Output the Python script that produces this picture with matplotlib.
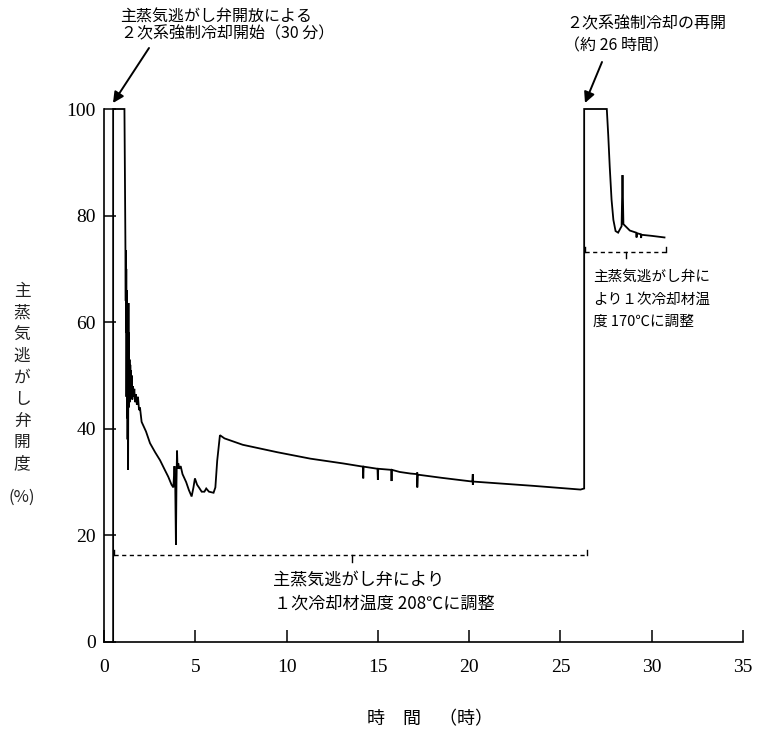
import matplotlib
matplotlib.use("Agg")
import matplotlib.pyplot as plt

# ---- data ----
time_h = [0.5, 0.5, 1.12, 1.17, 1.19, 1.2, 1.21, 1.22, 1.23, 1.25, 1.26, 1.28, 1.29, 1.31,
          1.32, 1.34, 1.35, 1.37, 1.38, 1.4, 1.42, 1.44, 1.46, 1.48, 1.5, 1.52, 1.55, 1.58,
          1.62, 1.66, 1.7, 1.75, 1.8, 1.86, 1.92, 1.97, 2.06, 2.3, 2.52, 2.8, 3.07, 3.3, 3.52,
          3.7, 3.8, 3.86, 3.9, 3.94, 3.97, 4.0, 4.03, 4.07, 4.12, 4.2, 4.3, 4.5, 4.65, 4.8,
          4.9, 4.98, 5.1, 5.2, 5.35, 5.5, 5.6, 5.75, 6.0, 6.1, 6.2, 6.35, 6.6, 7.6, 9.5,
          11.3, 13.1,
          14.18, 14.2, 14.22, 14.98, 15.0, 15.02, 15.73, 15.75, 15.77,
          16.2, 16.8, 17.14, 17.16, 17.16, 17.18, 18.5, 20.18, 20.2, 20.2, 20.22,
          23.5, 26.1, 26.3, 26.3, 27.54, 27.62, 27.7, 27.8, 27.9, 28.02, 28.16, 28.3, 28.35,
          28.4, 28.45, 28.8, 29.15, 29.17, 29.19, 29.4, 29.42, 29.44, 30.0, 30.7]
opening_pct = [0, 100, 100, 76, 64, 73.5, 58, 70, 46, 66, 42, 63.5, 38, 60,
               32.3, 63.6, 44, 58, 47, 53, 45, 52, 46, 51, 46.5, 50, 45.5, 48,
               46, 47.5, 45, 46.5, 44.5, 46, 43.5, 44, 41.3, 39.5, 37.3, 35.6, 34.1, 32.5, 31,
               29.5, 29, 33, 30, 18.2, 30, 35.9, 32.5, 33.5, 32.5, 33, 31.5, 30, 28.5, 27.3,
               29, 30.7, 29.5, 29, 28.2, 28.2, 28.8, 28.2, 28, 29, 34, 38.8, 38.2, 37, 35.6,
               34.4, 33.5,
               32.9, 30.7, 32.9, 32.5, 30.4, 32.5, 32.3, 30.2, 32.3,
               31.9, 31.6, 31.5, 31.8, 29.0, 31.4, 30.8, 30.1, 31.5, 29.5, 30.1,
               29.3, 28.6, 28.8, 100, 100, 95, 89.2, 83, 79.2, 77.1, 76.8, 77.7, 78,
               87.6, 78.4, 77.2, 76.8, 75.9, 76.7, 76.5, 75.8, 76.4, 76.2, 75.9]

# control bands (dashed brackets)
band_low_x = [0.55, 26.43]
band_low_y = 16.3
band_low_mid = 13.56
band_high_x = [26.35, 30.8]
band_high_y = 73.2
band_high_mid = 28.6

x_ticks = [0, 5, 10, 15, 20, 25, 30, 35]
y_ticks = [0, 20, 40, 60, 80, 100]

JP = ['Noto Sans CJK JP', 'DejaVu Sans']
SERIF = ['Liberation Serif', 'DejaVu Serif']

W, H = 759, 738
fig = plt.figure(figsize=(W / 100, H / 100), dpi=100)
ax = fig.add_axes([104 / W, (H - 642) / H, 639 / W, 533 / H])

ax.plot(time_h, opening_pct, color='black', lw=1.3, clip_on=False,
        solid_joinstyle='miter')

# dashed brackets
def bracket(xs, y, xm, up=1.0, down=1.2):
    ax.plot(xs, [y, y], color='black', lw=1.0, ls=(0, (3, 2.5)))
    for xe in xs:
        ax.plot([xe, xe], [y, y + up], color='black', lw=1.0)
    ax.plot([xm, xm], [y, y - down], color='black', lw=1.0)

bracket(band_low_x, band_low_y, band_low_mid)
bracket(band_high_x, band_high_y, band_high_mid)

ax.set_xlim(0, 35)
ax.set_ylim(0, 100)
ax.set_xticks(x_ticks)
ax.set_yticks(y_ticks)
for s in ['top', 'right']:
    ax.spines[s].set_visible(False)
for s in ['left', 'bottom']:
    ax.spines[s].set_linewidth(1.2)
ax.tick_params(axis='x', direction='in', length=8.5, width=1.1, pad=12)
ax.tick_params(axis='y', direction='in', length=8.5, width=1.1, pad=6)
for lab in ax.get_xticklabels() + ax.get_yticklabels():
    lab.set_fontfamily(SERIF)
    lab.set_fontsize(14)

def px(x, y):
    return x / W, 1 - y / H

# top-left annotation
fig.text(*px(120, 17), '主蒸気逃がし弁開放による', family=JP, fontsize=11.5, va='center', ha='left')
fig.text(*px(121, 34), '２次系強制冷却開始（30 分）', family=JP, fontsize=11.5, va='center', ha='left')
ax.annotate('', xy=px(113, 103), xycoords='figure fraction',
            xytext=px(149, 48), textcoords='figure fraction',
            arrowprops=dict(arrowstyle='-|>', color='black', lw=1.4,
                            mutation_scale=16, shrinkA=0, shrinkB=0))
# top-right annotation
fig.text(*px(566, 24), '２次系強制冷却の再開', family=JP, fontsize=11.5, va='center', ha='left')
fig.text(*px(564, 46), '（約 26 時間）', family=JP, fontsize=11.5, va='center', ha='left')
ax.annotate('', xy=px(585, 103), xycoords='figure fraction',
            xytext=px(602, 62), textcoords='figure fraction',
            arrowprops=dict(arrowstyle='-|>', color='black', lw=1.4,
                            mutation_scale=16, shrinkA=0, shrinkB=0))
# right annotation
fig.text(*px(593, 277), '主蒸気逃がし弁に', family=JP, fontsize=10.5, va='center', ha='left')
fig.text(*px(593, 300), 'より１次冷却材温', family=JP, fontsize=10.5, va='center', ha='left')
fig.text(*px(593, 322), '度 170℃に調整', family=JP, fontsize=10.5, va='center', ha='left')
# bottom annotation
fig.text(*px(273, 580), '主蒸気逃がし弁により', family=JP, fontsize=12.3, va='center', ha='left')
fig.text(*px(274, 604), '１次冷却材温度 208℃に調整', family=JP, fontsize=12.3, va='center', ha='left')

# axis labels
fig.text(*px(22, 378), '\n'.join('主蒸気逃がし弁開度'), family=JP, fontsize=12,
         va='center', ha='center', linespacing=1.35, color='#222222')
fig.text(*px(22, 497), '(%)', family=JP, fontsize=12, va='center', ha='center', color='#222222')
fig.text(*px(430, 719), '時　間　（時）', family=JP, fontsize=13, va='center', ha='center')

fig.savefig('out.png', dpi=100)
